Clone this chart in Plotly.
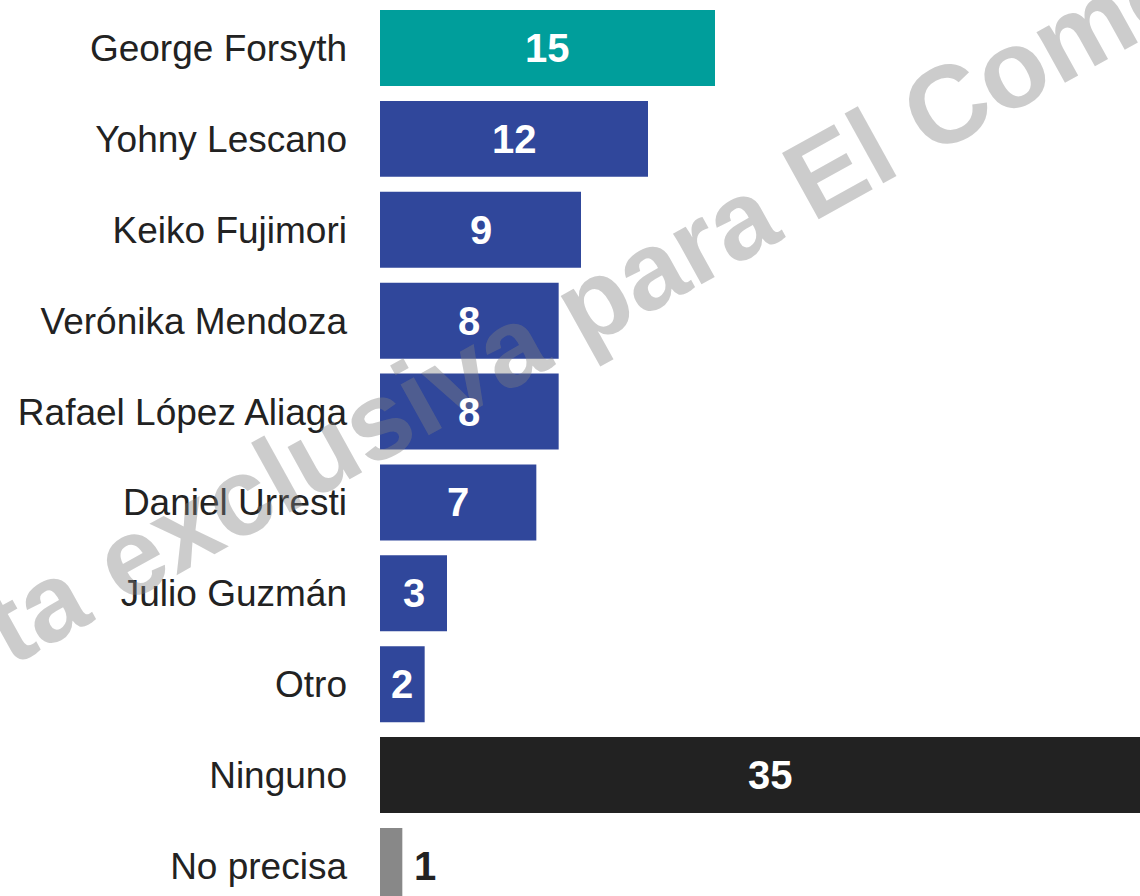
import plotly.graph_objects as go

categories = ["George Forsyth", "Yohny Lescano", "Keiko Fujimori", "Verónika Mendoza",
              "Rafael López Aliaga", "Daniel Urresti", "Julio Guzmán", "Otro",
              "Ninguno", "No precisa"]
values = [15, 12, 9, 8, 8, 7, 3, 2, 35, 1]
bar_colors = ["#009e9b", "#30479b", "#30479b", "#30479b", "#30479b", "#30479b",
              "#30479b", "#30479b", "#222222", "#888888"]
label_colors = ["white"] * 9 + ["#222222"]
watermark = "Encuesta exclusiva para El Comercio"

FONT = "Liberation Sans, Arial, sans-serif"

fig = go.Figure()
fig.add_trace(go.Bar(
    x=values, y=categories, orientation="h",
    marker=dict(color=bar_colors, line=dict(width=0)),
    hoverinfo="skip",
))

annotations = []
annotations.append(dict(
    text=watermark, xref="paper", yref="paper", x=0.161, y=0.6087,
    xanchor="center", yanchor="middle", textangle=-29, showarrow=False,
    font=dict(family=FONT, size=110, color="rgba(128,128,128,0.4)", weight="bold"),
))
for cat, v, lc in zip(categories, values, label_colors):
    if lc == "white":
        annotations.append(dict(
            x=v / 2, y=cat, xref="x", yref="y", text=f"<b>{v}</b>",
            showarrow=False, xanchor="center", yanchor="middle",
            font=dict(family=FONT, size=40, color=lc),
        ))
    else:
        annotations.append(dict(
            x=v, y=cat, xref="x", yref="y", text=f"<b>{v}</b>",
            showarrow=False, xanchor="left", yanchor="middle", xshift=10,
            font=dict(family=FONT, size=40, color=lc),
        ))

fig.update_layout(
    width=1140, height=896,
    margin=dict(l=380, r=0, t=0, b=0),
    paper_bgcolor="white", plot_bgcolor="white",
    bargap=0.164,
    showlegend=False,
    annotations=annotations,
    xaxis=dict(range=[0, 34.03], visible=False, fixedrange=True),
    yaxis=dict(
        type="category", range=[9.33, -0.528],
        showgrid=False, zeroline=False, showline=False, ticks="",
        ticklabelstandoff=32,
        tickfont=dict(family=FONT, size=37, color="#222222"),
        fixedrange=True,
    ),
)

fig.write_html("out.html", config={"displayModeBar": False},
               post_script="document.body.style.margin='0';document.body.style.overflow='hidden';")
